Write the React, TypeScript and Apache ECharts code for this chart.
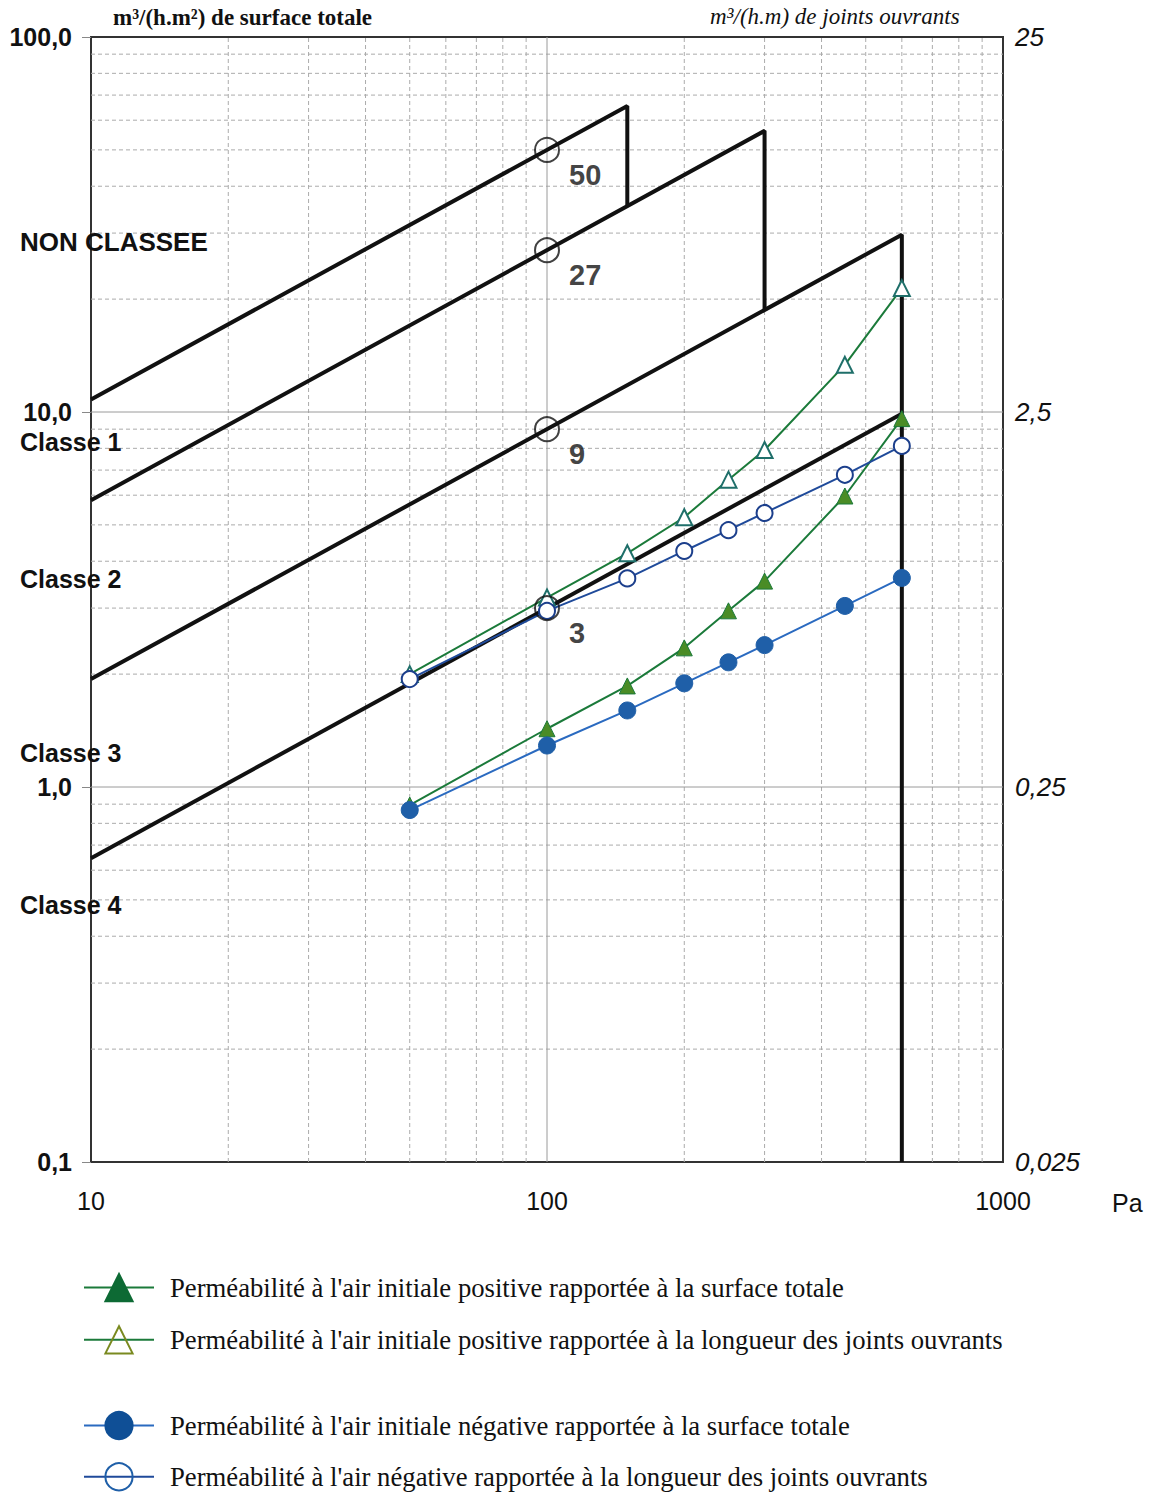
import React, { useEffect, useRef } from "react";
import * as echarts from "echarts";

// ---- data ----
const pressures = [50, 100, 150, 200, 250, 300, 450, 600];
const posSurface = [0.895, 1.43, 1.86, 2.35, 2.95, 3.54, 5.97, 9.6];
const posJoints = [0.5, 0.8, 1.05, 1.31, 1.65, 1.98, 3.34, 5.35];
const negSurface = [0.868, 1.29, 1.6, 1.89, 2.15, 2.39, 3.04, 3.61];
const negJoints = [0.485, 0.737, 0.9, 1.065, 1.21, 1.345, 1.7, 2.03];

// classification limit lines (Pa, m³/(h.m²))
const classLine1 = [[10, 10.8], [150, 65.5], [150, 35.4]];
const classLine2 = [[10, 5.82], [300, 56.2], [300, 18.7]];
const classLine3 = [[10, 1.94], [600, 29.7], [600, 0.1]];
const classLine4 = [[10, 0.646], [600, 9.9]];
const classRefPressure = 100;
const classRefValues = [50, 27, 9, 3];
const classRefLabels = ["50", "27", "9", "3"];

const xTickLabels = ["10", "100", "1000"];
const leftTickLabels = ["0,1", "1,0", "10,0", "100,0"];
const rightTickLabels = ["0,025", "0,25", "2,5", "25"];

const xMinorGrid = [20, 30, 40, 50, 60, 70, 80, 90, 200, 300, 400, 500, 600, 700, 800, 900];
const xMajorGrid = [100];
const yMinorGrid = [0.2, 0.3, 0.4, 0.5, 0.6, 0.7, 0.8, 0.9, 2, 3, 4, 5, 6, 7, 8, 9, 20, 30, 40, 50, 60, 70, 80, 90];
const yMajorGrid = [1, 10];

const zoneLabels = ["NON CLASSEE", "Classe 1", "Classe 2", "Classe 3", "Classe 4"];

const leftAxisTitle = "m³/(h.m²) de surface totale";
const rightAxisTitle = "m³/(h.m) de joints ouvrants";
const xUnit = "Pa";

const seriesNames = [
  "Perméabilité à l'air initiale positive rapportée à la surface totale",
  "Perméabilité à l'air initiale positive rapportée à la longueur des joints ouvrants",
  "Perméabilité à l'air initiale négative rapportée à la surface totale",
  "Perméabilité à l'air négative rapportée à la longueur des joints ouvrants",
];

const SANS = "'Liberation Sans', Arial, sans-serif";
const SERIF = "'Liberation Serif', 'Times New Roman', serif";

function decadeIndex(v: number, offset: number) {
  return Math.round(Math.log10(v)) + offset;
}

function gridSeries(values: number[], dir: "v" | "h", dashed: boolean) {
  return {
    type: "custom",
    xAxisIndex: 0,
    yAxisIndex: 0,
    silent: true,
    z: 1,
    data: values.map((v) => (dir === "v" ? [v, 1] : [10, v])),
    encode: { x: 0, y: 1 },
    renderItem: (params: any, api: any) => {
      const v = api.value(dir === "v" ? 0 : 1);
      const a = dir === "v" ? api.coord([v, 0.1]) : api.coord([10, v]);
      const b = dir === "v" ? api.coord([v, 100]) : api.coord([1000, v]);
      return {
        type: "line",
        shape: { x1: a[0], y1: a[1], x2: b[0], y2: b[1] },
        style: {
          stroke: dashed ? "#ababab" : "#9a9a9a",
          lineWidth: 1,
          lineDash: dashed ? [4, 3] : null,
        },
      };
    },
  };
}

function classSeries(pts: number[][]) {
  return {
    type: "line",
    xAxisIndex: 0,
    yAxisIndex: 0,
    data: pts,
    symbol: "none",
    silent: true,
    z: 3,
    lineStyle: { color: "#111", width: 4 },
  };
}

const zoneLabelY = [243, 443, 580, 754, 906];

const legendText = { fontSize: 26.7, fontFamily: SERIF, color: "#111", padding: [0, 0, 0, 11] };

export default function App() {
  const ref = useRef<HTMLDivElement>(null);

  useEffect(() => {
    if (!ref.current) return;
    const chart = echarts.init(ref.current, null, { renderer: "svg" });
    const zip = (vals: number[]) => pressures.map((p, i) => [p, vals[i]]);

    const option: any = {
      animation: false,
      backgroundColor: "#fff",
      grid: {
        left: 91,
        top: 37,
        width: 912,
        height: 1125,
        show: true,
        borderColor: "#333",
        borderWidth: 2,
        backgroundColor: "transparent",
      },
      xAxis: {
        type: "log",
        logBase: 10,
        min: 10,
        max: 1000,
        axisLine: { show: false },
        axisTick: { show: false },
        splitLine: { show: false },
        axisLabel: {
          margin: 26,
          fontSize: 25,
          fontFamily: SANS,
          color: "#111",
          showMinLabel: true,
          showMaxLabel: true,
          formatter: (v: number) => xTickLabels[decadeIndex(v, -1)] ?? "",
        },
      },
      yAxis: [
        {
          type: "log",
          logBase: 10,
          min: 0.1,
          max: 100,
          position: "left",
          axisLine: { show: false },
          axisTick: { show: true, length: 9, lineStyle: { color: "#888", width: 1 } },
          splitLine: { show: false },
          axisLabel: {
            margin: 19,
            fontSize: 25,
            fontWeight: "bold",
            fontFamily: SANS,
            color: "#111",
            showMinLabel: true,
            showMaxLabel: true,
            formatter: (v: number) => leftTickLabels[decadeIndex(v, 1)] ?? "",
          },
        },
        {
          type: "log",
          logBase: 10,
          min: 0.025,
          max: 25,
          position: "right",
          show: false,
        },
        {
          type: "log",
          logBase: 10,
          min: 0.1,
          max: 100,
          position: "right",
          axisLine: { show: false },
          axisTick: { show: false },
          splitLine: { show: false },
          axisLabel: {
            margin: 12,
            fontSize: 26,
            fontStyle: "italic",
            fontFamily: SANS,
            color: "#111",
            showMinLabel: true,
            showMaxLabel: true,
            formatter: (v: number) => rightTickLabels[decadeIndex(v, 1)] ?? "",
          },
        },
      ],
      legend: [
        {
          data: [
            { name: seriesNames[0], itemStyle: { color: "#0d6a34", borderColor: "#0d6a34" } },
            { name: seriesNames[1], itemStyle: { color: "rgba(0,0,0,0)", borderColor: "#7a8a20" } },
          ],
          orient: "vertical",
          left: 83,
          top: 1273,
          height: 120,
          padding: 0,
          itemWidth: 70,
          itemHeight: 34,
          itemGap: 23,
          selectedMode: false,
          textStyle: legendText,
        },
        {
          data: [
            { name: seriesNames[2], itemStyle: { color: "#0f4f96", borderColor: "#0f4f96" } },
            { name: seriesNames[3], itemStyle: { color: "rgba(0,0,0,0)", borderColor: "#1f5fa8" } },
          ],
          orient: "vertical",
          left: 83,
          top: 1411,
          height: 120,
          padding: 0,
          itemWidth: 70,
          itemHeight: 34,
          itemGap: 22,
          selectedMode: false,
          textStyle: legendText,
        },
      ],
      graphic: [
        {
          type: "text",
          left: 113,
          top: 6,
          style: { text: leftAxisTitle, font: `bold 23px ${SERIF}`, fill: "#111" },
        },
        {
          type: "text",
          left: 710,
          top: 5,
          style: { text: rightAxisTitle, font: `italic 23px ${SERIF}`, fill: "#111" },
        },
        {
          type: "text",
          left: 1112,
          top: 1190,
          style: { text: xUnit, font: `25px ${SANS}`, fill: "#111" },
        },
        ...zoneLabels.map((t, i) => ({
          type: "text",
          left: 20,
          top: zoneLabelY[i] - 14,
          z: 10,
          style: { text: t, font: `bold ${i === 0 ? 26 : 25}px ${SANS}`, fill: "#111" },
        })),
      ],
      series: [
        gridSeries(xMinorGrid, "v", true),
        gridSeries(yMinorGrid, "h", true),
        gridSeries(xMajorGrid, "v", false),
        gridSeries(yMajorGrid, "h", false),
        classSeries(classLine1),
        classSeries(classLine2),
        classSeries(classLine3),
        classSeries(classLine4),
        {
          type: "scatter",
          xAxisIndex: 0,
          yAxisIndex: 0,
          data: classRefValues.map((v) => [classRefPressure, v]),
          symbol: "circle",
          symbolSize: 24,
          silent: true,
          z: 6,
          itemStyle: { color: "rgba(0,0,0,0)", borderColor: "#111", borderWidth: 2 },
          label: {
            show: true,
            position: "right",
            offset: [4, 25],
            formatter: (p: any) => classRefLabels[p.dataIndex],
            fontSize: 29,
            fontWeight: "bold",
            fontFamily: SANS,
            color: "#111",
          },
        },
        {
          name: seriesNames[0],
          type: "line",
          xAxisIndex: 0,
          yAxisIndex: 0,
          data: zip(posSurface),
          symbol: "triangle",
          symbolSize: 16,
          z: 5,
          lineStyle: { color: "#1b7a3a", width: 2 },
          itemStyle: { color: "#4a8c26", borderColor: "#1b7a3a", borderWidth: 1 },
        },
        {
          name: seriesNames[1],
          type: "line",
          xAxisIndex: 0,
          yAxisIndex: 1,
          data: zip(posJoints),
          symbol: "triangle",
          symbolSize: 16,
          z: 5,
          lineStyle: { color: "#1b7a3a", width: 2 },
          itemStyle: { color: "#fff", borderColor: "#1f6f6a", borderWidth: 2 },
        },
        {
          name: seriesNames[2],
          type: "line",
          xAxisIndex: 0,
          yAxisIndex: 0,
          data: zip(negSurface),
          symbol: "circle",
          symbolSize: 17,
          z: 5,
          lineStyle: { color: "#2a6ac0", width: 2 },
          itemStyle: { color: "#1f5fa8", borderColor: "#1f5fa8", borderWidth: 1 },
        },
        {
          name: seriesNames[3],
          type: "line",
          xAxisIndex: 0,
          yAxisIndex: 1,
          data: zip(negJoints),
          symbol: "circle",
          symbolSize: 16,
          z: 5,
          lineStyle: { color: "#1f4a9a", width: 2 },
          itemStyle: { color: "#fff", borderColor: "#1c3f8c", borderWidth: 2 },
        },
      ],
    };

    chart.setOption(option);
    return () => chart.dispose();
  }, []);

  return (
    <div
      ref={ref}
      style={{ position: "absolute", left: 0, top: 0, width: 1158, height: 1493 }}
    />
  );
}
